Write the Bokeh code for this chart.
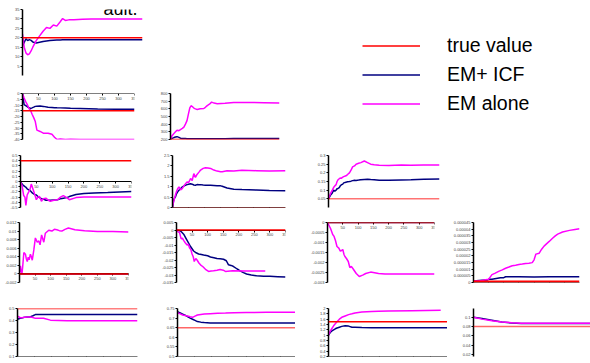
from bokeh.plotting import figure
from bokeh.models import (Range1d, LinearAxis, FixedTicker, NumeralTickFormatter,
                          Span, Legend, LegendItem, Label)
from bokeh.layouts import row, column
from bokeh.embed import file_html
from bokeh.resources import INLINE

# ---------------- data ----------------
legend_labels = ["true value", "EM+ ICF", "EM alone"]
title_fragment = "ault."
x_ticks = [50, 100, 150, 200, 250, 300, 350]
x_ticks_zero = [0, 50, 100, 150, 200, 250, 300, 350]

# panel 0,0
x00 = [0, 5, 10, 15, 20, 25, 30, 40, 50, 60, 70, 80, 90, 100, 110, 117, 125, 135, 150, 175, 200, 250, 300, 350]
em00 = [22, 15, 12, 11, 11.5, 13, 15, 18.5, 21, 23.5, 25.5, 25, 26.8, 26.2, 28.5, 30.2, 29.2, 29.5, 29.6, 29.8, 29.9, 30, 30, 30]
icf00 = [16, 17.5, 19.5, 18.5, 19, 18.6, 17.8, 17.2, 17.6, 18, 18.3, 18.5, 18.7, 18.8, 18.85, 18.9, 18.9, 18.9, 18.9, 18.9, 18.9, 18.9, 18.9, 18.9]
true00 = 20
yt00 = [5, 10, 15, 20, 25, 30, 35]

# panel 1,0
x10 = [0, 5, 10, 15, 20, 25, 30, 35, 40, 45, 55, 65, 80, 92, 100, 108, 118, 134, 150, 180, 235, 290, 350]
em10 = [0, -4, -7, -9.6, -13, -14.6, -18, -21, -24.4, -31.8, -33, -34.5, -34.5, -35.5, -38, -40, -39.5, -40, -39.8, -40, -40, -40, -40]
icf10 = [0, -9.6, -10.5, -11.5, -12.3, -13, -12.5, -11.9, -11.2, -11, -10.9, -11.2, -11.9, -12.1, -12.3, -12.4, -12.5, -12.6, -12.8, -13, -13.5, -13.7, -13.8]
true10 = -15
yt10 = [0, -5, -10, -15, -20, -25, -30, -35, -40]

# panel 1,1
x11 = [0, 5, 11, 16, 21, 27, 32, 38, 43, 48, 53, 58, 62, 66, 69, 75, 80, 86, 95, 107, 112, 118, 125, 132, 140, 150, 175, 203, 250, 300, 350]
em11 = [204, 250, 279, 300, 321, 315, 329, 345, 362, 400, 446, 540, 612, 640, 633, 610, 600, 591, 600, 604, 620, 642, 660, 687, 675, 666, 672, 683, 683, 680, 675]
icf11 = [200, 215, 225, 232, 237, 228, 217, 214, 212, 212, 211, 211, 211, 211, 211, 211, 211, 211, 211, 211, 211, 211, 211, 211, 211, 211, 211, 212, 212, 212, 212]
true11 = 200
yt11 = [200, 300, 400, 500, 600, 700, 800]

# panel 2,0
x20 = [0, 5, 10, 14, 17, 21, 26, 30, 34, 39, 45, 50, 55, 60, 66, 72, 80, 88, 94, 105, 117, 126, 135, 146, 154, 175, 200, 232, 275, 350]
em20 = [0, -0.08, -0.27, -0.3, -0.46, -0.26, -0.2, -0.15, -0.05, -0.14, -0.25, -0.35, -0.3, -0.29, -0.38, -0.33, -0.32, -0.36, -0.38, -0.36, -0.35, -0.3, -0.27, -0.31, -0.35, -0.31, -0.3, -0.3, -0.3, -0.3]
icf20 = [0, -0.05, -0.08, -0.1, -0.11, -0.14, -0.16, -0.17, -0.2, -0.23, -0.25, -0.26, -0.29, -0.31, -0.33, -0.34, -0.36, -0.36, -0.36, -0.355, -0.35, -0.33, -0.32, -0.31, -0.29, -0.25, -0.23, -0.22, -0.21, -0.19]
true20 = 0.4
yt20 = [-0.5, -0.4, -0.3, -0.2, -0.1, 0, 0.1, 0.2, 0.3, 0.4, 0.5]

# panel 2,1
x21 = [0, 3, 6, 9, 12, 16, 20, 25, 30, 38, 45, 50, 56, 61, 66, 71, 76, 82, 87, 95, 102, 110, 118, 128, 138, 149, 154, 169, 190, 215, 260, 300, 350]
em21 = [0, 0.25, 0.43, 0.6, 0.75, 0.9, 0.99, 0.85, 0.91, 1.1, 1.23, 1.2, 1.39, 1.3, 1.63, 1.45, 1.59, 1.7, 1.8, 1.88, 1.91, 1.9, 1.88, 1.8, 1.75, 1.72, 1.72, 1.77, 1.76, 1.79, 1.77, 1.75, 1.77]
icf21 = [0, 0.3, 0.45, 0.5, 0.65, 0.75, 0.83, 0.9, 0.99, 1.05, 1.1, 1.12, 1.14, 1.12, 1.08, 1.07, 1.1, 1.09, 1.1, 1.08, 1.07, 1.07, 1.07, 1.06, 1.05, 1.04, 1.02, 0.94, 0.88, 0.86, 0.84, 0.82, 0.81]
true21 = 0
yt21 = [0, 0.5, 1, 1.5, 2, 2.5]

# panel 2,2
x22 = [0, 6, 12, 16, 20, 24, 27, 30, 34, 37, 40, 45, 48, 55, 60, 66, 71, 76, 82, 87, 95, 102, 113, 123, 133, 144, 160, 190, 230, 260, 300, 350]
em22 = [0.05, 0.08, 0.1, 0.115, 0.125, 0.132, 0.15, 0.16, 0.166, 0.17, 0.168, 0.175, 0.178, 0.183, 0.19, 0.2, 0.215, 0.234, 0.24, 0.25, 0.255, 0.259, 0.268, 0.259, 0.25, 0.247, 0.244, 0.242, 0.245, 0.244, 0.245, 0.245]
icf22 = [0.05, 0.07, 0.084, 0.1, 0.095, 0.1, 0.108, 0.11, 0.115, 0.125, 0.13, 0.135, 0.142, 0.146, 0.148, 0.15, 0.152, 0.155, 0.157, 0.156, 0.158, 0.16, 0.162, 0.163, 0.161, 0.16, 0.157, 0.157, 0.159, 0.16, 0.163, 0.165]
true22 = 0.05
yt22 = [0.05, 0.1, 0.15, 0.2, 0.25, 0.3]

# panel 3,0
x30 = [0, 3, 5, 8, 10, 14, 19, 22, 25, 28, 31, 35, 38, 41, 46, 51, 57, 62, 66, 71, 78, 83, 94, 104, 112, 120, 128, 136, 146, 157, 178, 209, 250, 300, 350]
em30 = [0, 0.0019, 0.0008, 0.0001, 0.0015, 0.005, 0.0046, 0.0035, 0.0029, 0.0039, 0.0033, 0.0046, 0.004, 0.0032, 0.0056, 0.0084, 0.0074, 0.0077, 0.0068, 0.0091, 0.0074, 0.0095, 0.0102, 0.01, 0.0104, 0.0103, 0.0101, 0.01, 0.0104, 0.0107, 0.0103, 0.0101, 0.0099, 0.0099, 0.0098]
x30b = [0, 350]
icf30 = [0, 0]
true30 = 0
yt30 = [-0.002, 0, 0.002, 0.004, 0.006, 0.008, 0.01, 0.012]

# panel 3,1
x31a = [0, 5, 10, 15, 19, 23, 28, 34, 38, 42, 46, 50, 54, 57, 62, 66, 72, 77, 85, 93, 103, 111, 119, 130, 140, 150, 157, 180, 220, 250, 285]
em31 = [0, -0.0012, -0.0018, -0.0059, -0.0055, -0.0069, -0.0085, -0.01, -0.0095, -0.012, -0.013, -0.016, -0.018, -0.021, -0.019, -0.02, -0.022, -0.0232, -0.0245, -0.0262, -0.0276, -0.0274, -0.0272, -0.0268, -0.0264, -0.0268, -0.0276, -0.0272, -0.0274, -0.0273, -0.0274]
x31b = [0, 8, 14, 23, 34, 45, 55, 63, 71, 80, 87, 100, 109, 120, 130, 140, 151, 160, 167, 175, 182, 195, 204, 215, 225, 240, 257, 280, 300, 325, 350]
icf31 = [0, -0.0003, -0.0008, -0.0028, -0.0069, -0.011, -0.014, -0.0152, -0.016, -0.0163, -0.0167, -0.0172, -0.018, -0.0185, -0.019, -0.0192, -0.0195, -0.0205, -0.0232, -0.0236, -0.0242, -0.026, -0.0272, -0.0284, -0.0293, -0.03, -0.0305, -0.0308, -0.0309, -0.0311, -0.0313]
true31 = 0
yt31 = [-0.035, -0.03, -0.025, -0.02, -0.015, -0.01, -0.005, 0, 0.005]

# panel 3,2
x32 = [0, 5, 10, 17, 21, 26, 31, 37, 42, 46, 50, 54, 57, 62, 68, 73, 78, 83, 94, 104, 115, 125, 141, 167, 188, 229, 290, 350]
em32 = [0, -0.00015, -0.0003, -0.0006, -0.00068, -0.0009, -0.0012, -0.00128, -0.00143, -0.0014, -0.00135, -0.0016, -0.0017, -0.0018, -0.00195, -0.00225, -0.0022, -0.0023, -0.00255, -0.0027, -0.00263, -0.00255, -0.00248, -0.00255, -0.00258, -0.00257, -0.00258, -0.00258]
x32b = [0, 350]
icf32 = [0, 0]
true32 = 0
yt32 = [-0.003, -0.0025, -0.002, -0.0015, -0.001, -0.0005, 0]

# panel 3,3
x33a = [0, 17, 28, 40, 50, 55, 61, 72, 83, 95, 106, 117, 128, 139, 150, 161, 172, 183, 194, 200, 206, 217, 225, 233, 241, 250, 261, 270, 278, 294, 317, 335, 350]
em33 = [1.2e-6, 1.2e-6, 1.5e-6, 2.0e-6, 2.4e-6, 4.0e-6, 5.9e-6, 7.0e-6, 8.3e-6, 9.5e-6, 10.7e-6, 11.6e-6, 12.6e-6, 13.0e-6, 13.5e-6, 13.8e-6, 14.2e-6, 14.5e-6, 14.9e-6, 17.0e-6, 21.3e-6, 22.0e-6, 25.0e-6, 27.3e-6, 29.0e-6, 30.8e-6, 33.2e-6, 35.0e-6, 36.3e-6, 37.9e-6, 39.1e-6, 39.8e-6, 40.3e-6]
x33b = [0, 28, 45, 50, 61, 75, 89, 100, 106, 150, 200, 250, 300, 350]
icf33 = [1.2e-6, 1.7e-6, 1.8e-6, 2.4e-6, 2.4e-6, 3.0e-6, 3.6e-6, 3.6e-6, 4.3e-6, 4.3e-6, 4.2e-6, 4.3e-6, 4.3e-6, 4.3e-6]
true33 = 0.7e-6
yt33 = [0, 5e-6, 10e-6, 15e-6, 20e-6, 25e-6, 30e-6, 35e-6, 40e-6, 45e-6]

# panel 4,0
x40 = [0, 4, 8, 15, 22, 30, 37, 45, 52, 60, 76, 96, 120, 145, 200, 260, 350]
em40 = [0.436, 0.43, 0.423, 0.425, 0.428, 0.43, 0.43, 0.425, 0.418, 0.418, 0.418, 0.403, 0.4, 0.397, 0.397, 0.397, 0.397]
icf40 = [0.41, 0.414, 0.418, 0.423, 0.428, 0.43, 0.43, 0.44, 0.449, 0.449, 0.449, 0.449, 0.449, 0.449, 0.449, 0.449, 0.449]
true40 = 0.5
yt40 = [0.1, 0.2, 0.3, 0.4, 0.5]

# panel 4,1
x41 = [0, 8, 15, 22, 29, 37, 44, 51, 58, 68, 78, 95, 117, 140, 165, 200, 260, 350]
em41 = [0.728, 0.722, 0.716, 0.713, 0.711, 0.707, 0.704, 0.71, 0.716, 0.719, 0.721, 0.723, 0.725, 0.726, 0.728, 0.729, 0.73, 0.73]
icf41 = [0.733, 0.727, 0.721, 0.715, 0.708, 0.7, 0.694, 0.688, 0.682, 0.679, 0.677, 0.675, 0.674, 0.674, 0.674, 0.674, 0.674, 0.674]
true41 = 0.65
yt41 = [0.5, 0.55, 0.6, 0.65, 0.7, 0.75]

# panel 4,2
x42a = [0, 5, 10, 15, 20, 25, 32, 39, 49, 59, 69, 78, 98, 127, 147, 176, 245, 330]
em42 = [1.0, 1.15, 1.25, 1.35, 1.43, 1.5, 1.6, 1.67, 1.72, 1.77, 1.8, 1.83, 1.87, 1.89, 1.9, 1.91, 1.92, 1.93]
x42b = [0, 5, 10, 15, 20, 25, 32, 39, 49, 59, 69, 78, 98, 127, 147, 176, 245, 330, 350]
icf42 = [1.0, 1.1, 1.16, 1.2, 1.24, 1.27, 1.3, 1.33, 1.35, 1.34, 1.3, 1.3, 1.29, 1.28, 1.28, 1.28, 1.28, 1.28, 1.28]
true42 = 1.5
yt42 = [0.2, 0.4, 0.6, 0.8, 1, 1.2, 1.4, 1.6, 1.8, 2]

# panel 4,3
x43 = [0, 25, 54, 83, 113, 140, 162, 220, 280, 350]
em43 = [0.1, 0.0958, 0.0922, 0.0898, 0.088, 0.0872, 0.0868, 0.0868, 0.0868, 0.0868]
icf43 = [0.1, 0.097, 0.0934, 0.0898, 0.0874, 0.0866, 0.0862, 0.0862, 0.0862, 0.0862]
true43 = 0.08
yt43 = [0.02, 0.04, 0.06, 0.08, 0.1]

# ---------------- style ----------------
RED = "#ff0000"
NAVY = "#000080"
MAGENTA = "#ff00ff"
FONT = "Liberation Sans"
TICK_FS = "4px"


def style_axis(ax, width):
    ax.axis_line_color = "black"
    ax.axis_line_width = width
    ax.major_tick_out = 2
    ax.major_tick_in = 0
    ax.minor_tick_out = 0
    ax.minor_tick_in = 0
    ax.major_tick_line_color = "black"
    ax.major_label_text_font = FONT
    ax.major_label_text_font_size = TICK_FS
    ax.major_label_text_color = "#444444"
    ax.major_label_standoff = 1


def panel(frame, series, true_val, yticks, xaxis_at=None, xticks=x_ticks,
          red_level="annotation", red_width=1.5, red_alpha=1.0, x_labels=True):
    w, h, left, top, fw, fh, x_end, y_lo, y_hi = frame
    p = figure(width=w, height=h, x_axis_type=None, y_axis_type=None,
               toolbar_location=None, output_backend="svg",
               x_range=Range1d(0, x_end), y_range=Range1d(y_lo, y_hi),
               min_border_left=left, min_border_top=top,
               min_border_right=w - left - fw, min_border_bottom=h - top - fh,
               outline_line_color=None)
    for xs, ys, col in series:
        p.line(xs, ys, line_color=col, line_width=1.5)
    p.add_layout(Span(location=true_val, dimension="width", line_color=RED,
                      line_width=red_width, line_alpha=red_alpha, level=red_level))
    yax = LinearAxis(ticker=FixedTicker(ticks=yticks),
                     formatter=NumeralTickFormatter(format="0.[000000]"))
    style_axis(yax, 1.5)
    p.add_layout(yax, "left")
    if xaxis_at is not None:
        xax = LinearAxis(ticker=FixedTicker(ticks=xticks),
                         formatter=NumeralTickFormatter(format="0"),
                         fixed_location=xaxis_at)
        style_axis(xax, 1)
        if not x_labels:
            xax.major_label_text_color = None
        p.add_layout(xax, "below")
    return p


# frame specs: (fig_w, fig_h, left, top, frame_w, frame_h, x_end, y_lo, y_hi)
p00 = panel((295, 80, 22, 9, 120, 66, 350, 0, 35),
            [(x00, icf00, NAVY), (x00, em00, MAGENTA)], true00, yt00)
p00.add_layout(Label(x=236, y=35.2, text=title_fragment, text_font=FONT,
                     text_font_size="18px", text_color="black",
                     text_baseline="alphabetic"))
p10 = panel((150, 67, 22, 5, 112, 54, 350, -40, 0),
            [(x10, icf10, NAVY), (x10, em10, MAGENTA)], true10, yt10, xaxis_at=0)
p11 = panel((145, 67, 20, 13, 109, 48, 350, 200, 800),
            [(x11, icf11, NAVY), (x11, em11, MAGENTA)], true11, yt11)
p20 = panel((150, 67, 20, 6, 111, 55, 350, -0.5, 0.5),
            [(x20, icf20, NAVY), (x20, em20, MAGENTA)], true20, yt20, xaxis_at=0)
p21 = panel((145, 67, 22, 8, 113, 52, 350, 0, 2.5),
            [(x21, icf21, NAVY), (x21, em21, MAGENTA)], true21, yt21, xaxis_at=0,
            red_level="underlay", red_width=1)
p22 = panel((150, 67, 33, 8, 111, 59, 350, 0, 0.3),
            [(x22, icf22, NAVY), (x22, em22, MAGENTA)], true22, yt22, red_alpha=0.55)
p30 = panel((150, 82, 19, 7, 109, 68, 350, -0.002, 0.012),
            [(x30b, icf30, NAVY), (x30, em30, MAGENTA)], true30, yt30, xaxis_at=0)
p31 = panel((145, 82, 26, 8, 109, 65, 350, -0.035, 0.005),
            [(x31b, icf31, NAVY), (x31a, em31, MAGENTA)], true31, yt31, xaxis_at=0)
p32 = panel((150, 82, 32, 3, 107, 66, 350, -0.003, 0),
            [(x32b, icf32, NAVY), (x32, em32, MAGENTA)], true32, yt32, xaxis_at=0)
p33 = panel((145, 82, 28, 4, 106, 64, 350, 0, 45e-6),
            [(x33b, icf33, NAVY), (x33a, em33, MAGENTA)], true33, yt33, xaxis_at=0,
            xticks=x_ticks_zero, red_width=2)
p40 = panel((150, 67, 17, 12, 120, 52, 350, 0.1, 0.5),
            [(x40, icf40, NAVY), (x40, em40, MAGENTA)], true40, yt40,
            xaxis_at=0.1, x_labels=False)
p41 = panel((145, 67, 27, 11, 118, 49, 344, 0.5, 0.75),
            [(x41, icf41, NAVY), (x41, em41, MAGENTA)], true41, yt41,
            xaxis_at=0.5, x_labels=False, red_alpha=0.6)
p42 = panel((152, 67, 33, 4, 119, 60, 350, 0.2, 2.0),
            [(x42b, icf42, NAVY), (x42a, em42, MAGENTA)], true42, yt42,
            xaxis_at=0.2, x_labels=False)
p43 = panel((143, 67, 26, 7, 117, 57, 344, 0.0157, 0.1186),
            [(x43, icf43, NAVY), (x43, em43, MAGENTA)], true43, yt43, red_alpha=0.6)

# legend figure (legend renderers carry the first panel's data but stay hidden)
lg = figure(width=295, height=147, x_axis_type=None, y_axis_type=None,
            toolbar_location=None, output_backend="svg",
            x_range=Range1d(0, 350), y_range=Range1d(0, 35),
            min_border=0, outline_line_color=None)
r_true = lg.line(x=x00, y=icf00, line_color=RED, line_width=1.5, visible=False)
r_icf = lg.line(x=x00, y=icf00, line_color=NAVY, line_width=1.5, visible=False)
r_em = lg.line(x=x00, y=em00, line_color=MAGENTA, line_width=1.5, visible=False)
leg = Legend(items=[LegendItem(label=legend_labels[0], renderers=[r_true]),
                    LegendItem(label=legend_labels[1], renderers=[r_icf]),
                    LegendItem(label=legend_labels[2], renderers=[r_em])],
             location=(67, 32), glyph_width=58, glyph_height=23, label_height=23,
             spacing=6, padding=0, margin=0, label_standoff=27,
             label_text_font=FONT, label_text_font_size="19.5px",
             label_text_color="black", border_line_alpha=0,
             background_fill_alpha=0, inactive_fill_alpha=0)
lg.add_layout(leg, "center")

layout = column(
    row(column(p00, row(p10, p11)), lg),
    row(p20, p21, p22),
    row(p30, p31, p32, p33),
    row(p40, p41, p42, p43),
)

open("out.html", "w").write(file_html(layout, INLINE, "chart"))
